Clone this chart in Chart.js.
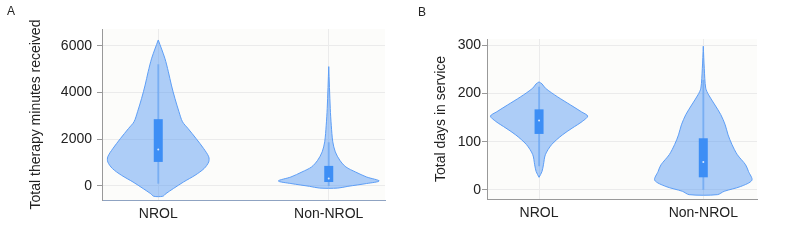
<!DOCTYPE html>
<html lang="en">
<head>
  <meta charset="UTF-8">
  <title>Therapy minutes and days in service</title>
  <script src="https://cdn.jsdelivr.net/npm/chart.js"></script>
  <style>
    body { margin: 0; padding: 0; background: #fff; font-family: "Liberation Sans", Arial, sans-serif; }
    .panel { position: absolute; top: 0; width: 400px; height: 250px; }
    .tag { position: absolute; font-size: 12px; line-height: 12px; color: #222; }
  </style>
</head>
<body>
  <div class="panel" style="left:0"><canvas id="minutesChart" width="400" height="250"></canvas></div>
  <div class="panel" style="left:400px"><canvas id="daysChart" width="400" height="250"></canvas></div>
  <div class="tag" style="left:7px;top:5px">A</div>
  <div class="tag" style="left:418px;top:6px">B</div>

  <script>
    const categories = ['NROL', 'Non-NROL'];

    // Panel A - total therapy minutes received
    const minutesTicks = [0, 2000, 4000, 6000];
    // violin outline: value levels and relative half-width (1 = widest)
    const nrolMinutesY = [6250, 5470, 4890, 4320, 3750, 3180, 2750, 2460, 2030, 1600, 1250, 1030, 750, 460, 170, -110, -330, -440];
    const nrolMinutesW = [0, 0.13, 0.2, 0.26, 0.33, 0.41, 0.48, 0.59, 0.75, 0.9, 1.0, 1.0, 0.91, 0.73, 0.5, 0.3, 0.15, 0.09];
    const nonMinutesY = [5110, 3320, 2600, 1890, 1460, 1100, 815, 600, 385, 215, 105, -15, -90];
    const nonMinutesW = [0, 0.03, 0.05, 0.08, 0.13, 0.22, 0.34, 0.53, 0.75, 1.0, 0.75, 0.38, 0.18];
    const minutesLow = [100, 0];
    const minutesQ1 = [1030, 170];
    const minutesMedian = [1560, 320];
    const minutesQ3 = [2860, 860];
    const minutesHigh = [5210, 1870];

    // Panel B - total days in service
    const daysTicks = [0, 100, 200, 300];
    const nrolDaysY = [224, 220, 211, 193, 176, 162, 153, 142, 128, 114, 94, 73, 52, 38, 26];
    const nrolDaysW = [0, 0.06, 0.13, 0.38, 0.65, 0.87, 1.0, 0.89, 0.68, 0.48, 0.26, 0.13, 0.09, 0.06, 0];
    const nonDaysY = [298, 252, 211, 197, 176, 156, 135, 114, 94, 73, 52, 38, 20, 7, -3, -10];
    const nonDaysW = [0, 0.02, 0.05, 0.11, 0.24, 0.36, 0.45, 0.51, 0.59, 0.70, 0.87, 0.93, 1.0, 0.77, 0.43, 0.29];
    const daysLow = [49, 0];
    const daysQ1 = [116, 26];
    const daysMedian = [144, 58];
    const daysQ3 = [167, 107];
    const daysHigh = [214, 228];

    const VIOLIN_HALF = 0.296;  // widest half-width in x units

    Chart.defaults.font.family = '"Liberation Sans", Arial, sans-serif';
    Chart.defaults.font.size = 14;
    Chart.defaults.color = '#222';

    const plotBackground = {
      id: 'plotBackground',
      beforeDraw(chart) {
        const { ctx, chartArea: a } = chart;
        ctx.save();
        ctx.fillStyle = '#fcfcfa';
        ctx.fillRect(a.left, a.top, a.width, a.height);
        ctx.restore();
      }
    };

    function violinPoints(pos, ys, ws) {
      const right = ys.map((y, i) => ({ x: pos + ws[i] * VIOLIN_HALF, y: y }));
      const left = ys.map((y, i) => ({ x: pos - ws[i] * VIOLIN_HALF, y: y })).reverse();
      return right.concat(left);
    }

    function buildDatasets(violins, low, q1, med, q3, high) {
      const datasets = [];
      violins.forEach((v, i) => {
        datasets.push({
          data: violinPoints(i, v[0], v[1]),
          showLine: true, fill: 'shape', tension: 0.3,
          backgroundColor: 'rgba(77,148,245,0.45)',
          borderColor: '#5d9ef6', borderWidth: 1,
          pointRadius: 0, order: 4
        });
        datasets.push({
          data: [{ x: i, y: low[i] }, { x: i, y: high[i] }],
          showLine: true, borderColor: 'rgba(61,142,245,0.4)', borderWidth: 2,
          pointRadius: 0, order: 3
        });
        datasets.push({
          data: [{ x: i, y: q1[i] }, { x: i, y: q3[i] }],
          showLine: true, borderColor: '#3d8ef5', borderWidth: 9, borderCapStyle: 'butt',
          pointRadius: 0, order: 2
        });
        datasets.push({
          data: [{ x: i, y: med[i] }],
          pointRadius: 1, pointBackgroundColor: 'rgba(255,255,255,0.8)', pointBorderWidth: 0, order: 1
        });
      });
      return datasets;
    }

    function makeChart(id, cfg) {
      const ctx = document.getElementById(id).getContext('2d');
      new Chart(ctx, {
        type: 'scatter',
        data: { datasets: cfg.datasets },
        plugins: [plotBackground],
        options: {
          responsive: false,
          animation: false,
          layout: { padding: cfg.padding },
          plugins: { legend: { display: false }, tooltip: { enabled: false } },
          scales: {
            x: {
              type: 'linear', min: cfg.xMin, max: cfg.xMax,
              afterBuildTicks: s => { s.ticks = [0, 1].map(v => ({ value: v })); },
              afterFit: s => { s.height = cfg.xHeight; },
              grid: { color: '#ebebeb', drawTicks: false },
              border: { color: cfg.xAxisColor },
              ticks: { padding: 6, callback: v => categories[v] }
            },
            y: {
              min: cfg.yMin, max: cfg.yMax,
              afterBuildTicks: s => { s.ticks = cfg.ticks.map(v => ({ value: v })); },
              afterFit: s => { s.width = cfg.yWidth; },
              grid: { color: '#ebebeb', tickColor: '#999', tickLength: 5 },
              border: { color: '#999' },
              ticks: { padding: cfg.tickPad, callback: v => String(v) },
              title: { display: true, text: cfg.title, padding: { top: cfg.titlePad } }
            }
          }
        }
      });
    }

    makeChart('minutesChart', {
      datasets: buildDatasets([[nrolMinutesY, nrolMinutesW], [nonMinutesY, nonMinutesW]],
        minutesLow, minutesQ1, minutesMedian, minutesQ3, minutesHigh),
      ticks: minutesTicks, yMin: -600, yMax: 6720, xMin: -0.33, xMax: 1.33,
      title: 'Total therapy minutes received',
      padding: { top: 29, right: 15, left: 0, bottom: 0 },
      yWidth: 102, xHeight: 50, tickPad: 5, titlePad: 28, xAxisColor: '#8fa3c2'
    });

    makeChart('daysChart', {
      datasets: buildDatasets([[nrolDaysY, nrolDaysW], [nonDaysY, nonDaysW]],
        daysLow, daysQ1, daysMedian, daysQ3, daysHigh),
      ticks: daysTicks, yMin: -19, yMax: 313, xMin: -0.317, xMax: 1.327,
      title: 'Total days in service',
      padding: { top: 39, right: 43, left: 0, bottom: 0 },
      yWidth: 87, xHeight: 51, tickPad: 1, titlePad: 33, xAxisColor: '#999'
    });
  </script>
</body>
</html>
